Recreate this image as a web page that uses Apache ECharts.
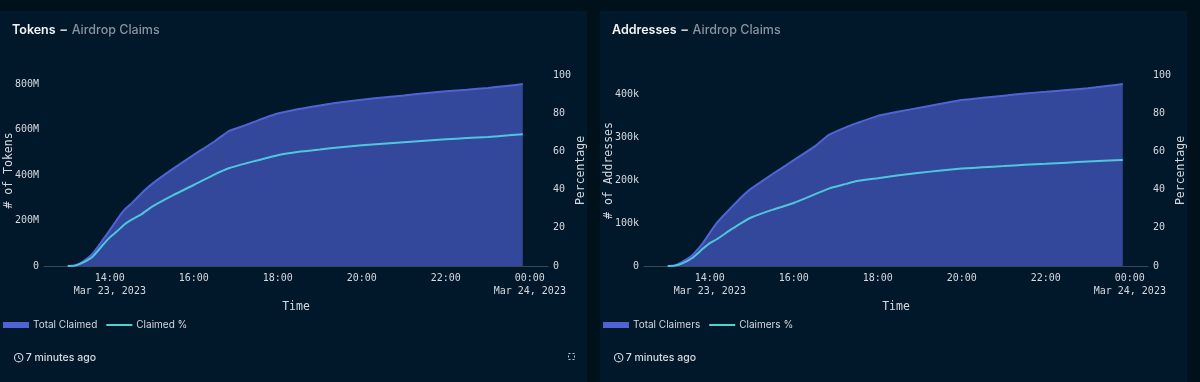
<!DOCTYPE html>
<html>
<head>
<meta charset="utf-8">
<style>
  html, body { margin: 0; padding: 0; background: #00111c; }
  #chart { width: 1200px; height: 382px; }
</style>
<script src="https://cdn.jsdelivr.net/npm/echarts@6/dist/echarts.min.js"></script>
</head>
<body>
<div id="chart"></div>
<script>
const times = [
  "13:00", "13:10", "13:20", "13:35", "13:50", "14:00", "14:10", "14:20", "14:30", "14:45",
  "15:00", "15:30", "16:00", "16:30", "16:50", "17:15", "17:30", "18:00", "18:30", "19:00",
  "19:30", "20:00", "20:30", "21:00", "21:30", "22:00", "22:30", "23:00", "23:30", "23:50",
];
const totalClaimed = [
  0, 2, 16, 53, 115, 158, 203, 245, 273, 320,
  361, 428, 490, 550, 595, 622, 640, 672, 692, 708,
  722, 733, 743, 752, 762, 770, 777, 785, 795, 802,
];
const claimedPct = [
  0, 0.2, 1.5, 4.7, 11, 15, 18, 21.5, 24, 27,
  31, 37, 42.4, 48, 51.2, 53.8, 55.2, 58, 59.8, 61,
  62.2, 63.2, 64, 64.8, 65.6, 66.3, 67, 67.6, 68.4, 69,
];
const totalClaimers = [
  0, 1, 9, 25, 53, 77, 100, 118, 135, 160,
  181, 214, 246, 278, 305, 323, 332, 349, 359, 368,
  377, 386, 391, 396, 401, 405, 409, 413, 419, 423,
];
const claimersPct = [
  0, 0.2, 1.2, 4.2, 9, 12, 14, 16.5, 19, 22.5,
  25.5, 29.5, 33, 37.5, 40.5, 43, 44.5, 46, 47.5, 48.8,
  50, 51, 51.7, 52.3, 53, 53.5, 54.1, 54.7, 55.2, 55.5,
];
const leftTicksTokens = { "0": "0", "200": "200M", "400": "400M", "600": "600M", "800": "800M" };
const leftTicksAddresses = { "0": "0", "100": "100k", "200": "200k", "300": "300k", "400": "400k" };
const dateLabels = { "2023-03-23 14:00": "Mar 23, 2023", "2023-03-24 00:00": "Mar 24, 2023" };

const mono = "'DejaVu Sans Mono', monospace";
const sans = "Inter, sans-serif";
const axisColor = "#d5d9de";

const stamp = (hhmm) => "2023-03-23 " + hhmm;
const pairs = (values) => times.map((t, i) => [stamp(t), values[i]]);
const pad = (n) => String(n).padStart(2, "0");

const timeLabel = (value) => {
  const d = new Date(value);
  if (d.getMinutes() !== 0 || d.getSeconds() !== 0 || d.getHours() % 2 !== 0) return "";
  const hhmm = pad(d.getHours()) + ":" + pad(d.getMinutes());
  const key = `2023-03-${pad(d.getDate())} ${hhmm}`;
  return dateLabels[key] ? hhmm + "\n" + dateLabels[key] : hhmm;
};

const xAxis = (gridIndex) => ({
  type: "time",
  gridIndex,
  min: "2023-03-23 12:26",
  max: "2023-03-24 00:26",
  minInterval: 7200000,
  maxInterval: 7200000,
  name: "Time",
  nameLocation: "middle",
  nameGap: 35,
  nameMoveOverlap: false,
  nameTextStyle: { color: axisColor, fontFamily: mono, fontSize: 11.5 },
  axisLine: { lineStyle: { color: "#3d4652" } },
  axisTick: { show: false },
  splitLine: { show: false },
  axisLabel: {
    color: axisColor, fontFamily: mono, fontSize: 10, lineHeight: 13, margin: 6,
    showMinLabel: false, showMaxLabel: false, hideOverlap: false,
    formatter: timeLabel,
  },
});

const leftAxis = (gridIndex, name, max, interval, ticks) => ({
  type: "value",
  gridIndex,
  min: 0,
  max,
  interval,
  name,
  nameLocation: "middle",
  nameGap: 29,
  nameMoveOverlap: false,
  nameTextStyle: { color: axisColor, fontFamily: mono, fontSize: 11.5 },
  axisLine: { show: false },
  axisTick: { show: false },
  splitLine: { show: false },
  axisLabel: {
    color: axisColor, fontFamily: mono, fontSize: 10, margin: 5,
    formatter: (v) => ticks[String(v)] || "",
  },
});

const rightAxis = (gridIndex) => ({
  type: "value",
  gridIndex,
  position: "right",
  min: 0,
  max: 100,
  interval: 20,
  name: "Percentage",
  nameLocation: "middle",
  nameGap: 27,
  nameMoveOverlap: false,
  nameTextStyle: { color: axisColor, fontFamily: mono, fontSize: 11.5 },
  axisLine: { show: false },
  axisTick: { show: false },
  splitLine: { show: false },
  axisLabel: { color: axisColor, fontFamily: mono, fontSize: 10, margin: 5 },
});

const areaSeries = (name, values, idx) => ({
  name,
  type: "line",
  xAxisIndex: idx,
  yAxisIndex: idx * 2,
  data: pairs(values),
  symbol: "none",
  smooth: 0.15,
  lineStyle: { color: "#4f63d6", width: 2 },
  itemStyle: { color: "#4f63d6" },
  areaStyle: { color: "#33479b", opacity: 1 },
});

const pctSeries = (name, values, idx) => ({
  name,
  type: "line",
  xAxisIndex: idx,
  yAxisIndex: idx * 2 + 1,
  data: pairs(values),
  symbol: "none",
  smooth: 0.15,
  lineStyle: { color: "#4fc6dc", width: 2 },
  itemStyle: { color: "#4fd2c8" },
});

const legend = (left, areaName, pctName) => ({
  left,
  top: 320,
  padding: 0,
  itemWidth: 26,
  itemHeight: 6,
  itemGap: 8,
  textStyle: { color: "#d5d9de", fontFamily: sans, fontSize: 10, padding: [0, 0, 0, -1] },
  data: [
    { name: areaName, icon: "rect", itemStyle: { color: "#4f63d6" } },
    { name: pctName, itemStyle: { color: "transparent", borderWidth: 0 }, lineStyle: { color: "#4fd2c8", width: 2 } },
  ],
});

const title = (left, head) => ({
  left,
  top: 24,
  padding: 0,
  text: `{a|${head}} {b|−} {c|Airdrop Claims}`,
  textStyle: {
    fontSize: 13,
    rich: {
      a: { color: "#f2f4f6", fontFamily: sans, fontSize: 12.5, fontWeight: 600 },
      b: { color: "#c9ced4", fontFamily: sans, fontSize: 13 },
      c: { color: "#8a939d", fontFamily: sans, fontSize: 12.5, fontWeight: 500 },
    },
  },
});

// history icon + footer text
const footer = (left) => ({
  type: "group",
  left,
  top: 351,
  children: [
    { type: "circle", shape: { cx: 5, cy: 6, r: 4.2 }, style: { fill: "none", stroke: "#d5d9de", lineWidth: 1.1 } },
    { type: "polyline", shape: { points: [[5, 3.6], [5, 6.2], [7, 7.4]] }, style: { fill: "none", stroke: "#d5d9de", lineWidth: 1 } },
    { type: "text", x: 12, y: 1, style: { text: "7 minutes ago", fill: "#d5d9de", font: "500 10.5px " + sans } },
  ],
});

const option = {
  animation: false,
  graphic: [
    { type: "rect", shape: { x: 0, y: 11, width: 587, height: 371 }, style: { fill: "#01182b" }, silent: true, z: -10 },
    { type: "rect", shape: { x: 600, y: 11, width: 587, height: 371 }, style: { fill: "#01182b" }, silent: true, z: -10 },
    footer(12),
    footer(612),
    { type: "rect", shape: { x: 568.5, y: 353.5, width: 6, height: 6 }, style: { fill: "none", stroke: "#c3c8ce", lineWidth: 1, lineDash: [2, 2] }, silent: true },
  ],
  title: [title(12, "Tokens"), title(612, "Addresses")],
  legend: [
    legend(3, "Total Claimed", "Claimed %"),
    legend(603, "Total Claimers", "Claimers %"),
  ],
  grid: [
    { left: 44, top: 75, width: 504, height: 191, outerBoundsMode: "none" },
    { left: 644, top: 75, width: 504, height: 191, outerBoundsMode: "none" },
  ],
  xAxis: [xAxis(0), xAxis(1)],
  yAxis: [
    leftAxis(0, "# of Tokens", 842, 200, leftTicksTokens),
    rightAxis(0),
    leftAxis(1, "# of Addresses", 444, 100, leftTicksAddresses),
    rightAxis(1),
  ],
  series: [
    areaSeries("Total Claimed", totalClaimed, 0),
    pctSeries("Claimed %", claimedPct, 0),
    areaSeries("Total Claimers", totalClaimers, 1),
    pctSeries("Claimers %", claimersPct, 1),
  ],
};

const chart = echarts.init(document.getElementById("chart"));
chart.setOption(option);
</script>
</body>
</html>
